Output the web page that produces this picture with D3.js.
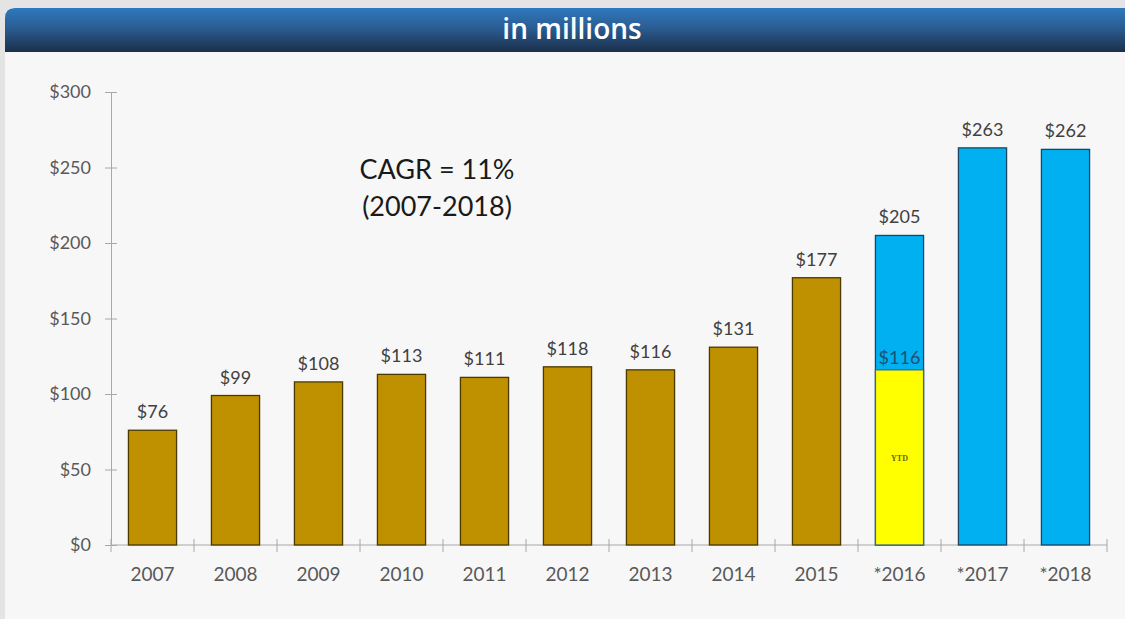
<!DOCTYPE html>
<html>
<head>
<meta charset="utf-8">
<script src="https://cdn.jsdelivr.net/npm/d3@7"></script>
<style>
  html, body { margin: 0; padding: 0; background: #e4e4e4; }
  svg { display: block; }
</style>
</head>
<body>
<script>
// Revenue by year, in millions of dollars
const years = ["2007", "2008", "2009", "2010", "2011", "2012", "2013", "2014", "2015", "*2016", "*2017", "*2018"];
const actuals = [76, 99, 108, 113, 111, 118, 116, 131, 177, null, null, null];
const projected = [null, null, null, null, null, null, null, null, null, 205, 263, 262];
const ytd = [null, null, null, null, null, null, null, null, null, 116, null, null];
const yTicks = [0, 50, 100, 150, 200, 250, 300];

const W = 1125, H = 619;
const margin = { left: 111, right: 18, top: 92, bottom: 74 };

const svg = d3.select("body").append("svg").attr("width", W).attr("height", H);
const defs = svg.append("defs");

const hdr = defs.append("linearGradient").attr("id", "hdr").attr("x1", 0).attr("y1", 0).attr("x2", 0).attr("y2", 1);
hdr.append("stop").attr("offset", "0%").attr("stop-color", "#2f78bd");
hdr.append("stop").attr("offset", "45%").attr("stop-color", "#2a5d93");
hdr.append("stop").attr("offset", "100%").attr("stop-color", "#1c2f4a");

// page panel
svg.append("rect").attr("x", 5).attr("y", 8).attr("width", W).attr("height", H)
  .attr("rx", 8).attr("fill", "#f7f7f7");
// header band
svg.append("path")
  .attr("d", "M5,52 L5,18 Q5,8 15,8 L1125,8 L1125,52 Z")
  .attr("fill", "url(#hdr)");
svg.append("text").attr("x", 572).attr("y", 39)
  .attr("text-anchor", "middle")
  .attr("font-family", "Open Sans, sans-serif").attr("font-weight", 600)
  .attr("font-size", 28).attr("fill", "#ffffff")
  .text("in millions");

const x = d3.scaleBand().domain(years).range([margin.left, W - margin.right])
  .paddingInner(0.42).paddingOuter(0.21);
const y = d3.scaleLinear().domain([0, 300]).range([H - margin.bottom, margin.top]);

const font = "Lato, 'Open Sans', sans-serif";
const axisColor = "#a8a8a8";

// y axis
const yAxis = svg.append("g").attr("transform", `translate(${margin.left},0)`)
  .call(d3.axisLeft(y).tickValues(yTicks).tickSize(0).tickFormat(d => "$" + d));
yAxis.select(".domain").attr("stroke", axisColor);
yAxis.selectAll(".tick line").attr("x1", -6).attr("x2", 6).attr("stroke", axisColor);
yAxis.selectAll(".tick text").attr("x", -20).attr("font-family", font)
  .attr("font-size", 18).attr("fill", "#595959");

// x axis with ticks at category boundaries
const x0 = y(0);
const gx = svg.append("g");
gx.append("line").attr("x1", margin.left).attr("x2", W - margin.right)
  .attr("y1", x0).attr("y2", x0).attr("stroke", axisColor);
const step = x.step();
const bounds = d3.range(years.length + 1).map(i => x.range()[0] + i * step);
gx.selectAll("line.b").data(bounds).join("line").attr("class", "b")
  .attr("x1", d => d).attr("x2", d => d).attr("y1", x0 - 6).attr("y2", x0 + 7)
  .attr("stroke", axisColor);
gx.selectAll("text").data(years).join("text")
  .attr("x", d => x(d) + x.bandwidth() / 2).attr("y", x0 + 36)
  .attr("text-anchor", "middle").attr("font-family", font).attr("font-size", 19)
  .attr("fill", "#595959").text(d => d);

const bars = svg.append("g");
// actual-year bars
bars.selectAll("rect.act").data(years.map((d, i) => ({ k: d, v: actuals[i] })).filter(d => d.v != null))
  .join("rect").attr("class", "act")
  .attr("x", d => x(d.k)).attr("width", x.bandwidth())
  .attr("y", d => y(d.v)).attr("height", d => y(0) - y(d.v))
  .attr("fill", "#bf9000").attr("stroke", "#4a3a00").attr("stroke-width", 1.3);
// projected bars
bars.selectAll("rect.proj").data(years.map((d, i) => ({ k: d, v: projected[i] })).filter(d => d.v != null))
  .join("rect").attr("class", "proj")
  .attr("x", d => x(d.k)).attr("width", x.bandwidth())
  .attr("y", d => y(d.v)).attr("height", d => y(0) - y(d.v))
  .attr("fill", "#00b0f0").attr("stroke", "#1b4563").attr("stroke-width", 1.3);
// year-to-date portion
const ytdData = years.map((d, i) => ({ k: d, v: ytd[i] })).filter(d => d.v != null);
bars.selectAll("rect.ytd").data(ytdData)
  .join("rect").attr("class", "ytd")
  .attr("x", d => x(d.k)).attr("width", x.bandwidth())
  .attr("y", d => y(d.v)).attr("height", d => y(0) - y(d.v))
  .attr("fill", "#ffff00").attr("stroke", "#3d6a80").attr("stroke-width", 1.3);
bars.selectAll("text.ytdv").data(ytdData).join("text").attr("class", "ytdv")
  .attr("x", d => x(d.k) + x.bandwidth() / 2).attr("y", d => y(d.v) - 6)
  .attr("text-anchor", "middle").attr("font-family", font).attr("font-size", 18)
  .attr("fill", "#1d4f73").text(d => "$" + d.v);
bars.selectAll("text.ytdl").data(ytdData).join("text").attr("class", "ytdl")
  .attr("x", d => x(d.k) + x.bandwidth() / 2).attr("y", d => y(d.v / 2) + 4)
  .attr("text-anchor", "middle").attr("font-family", "Liberation Serif, serif")
  .attr("font-weight", "bold").attr("font-size", 8).attr("fill", "#6b6a10").text("YTD");

// value labels above bars
const tops = years.map((d, i) => ({ k: d, v: actuals[i] != null ? actuals[i] : projected[i] }));
svg.append("g").selectAll("text").data(tops).join("text")
  .attr("x", d => x(d.k) + x.bandwidth() / 2).attr("y", d => y(d.v) - 12)
  .attr("text-anchor", "middle").attr("font-family", font).attr("font-size", 18)
  .attr("fill", "#404040").text(d => "$" + d.v);

// growth annotation
const ann = svg.append("g").attr("font-family", font).attr("font-size", 27)
  .attr("fill", "#1a1a1a").attr("text-anchor", "middle");
ann.append("text").attr("x", 437).attr("y", 179).text("CAGR = 11%");
ann.append("text").attr("x", 437).attr("y", 216).text("(2007-2018)");
</script>
</body>
</html>
